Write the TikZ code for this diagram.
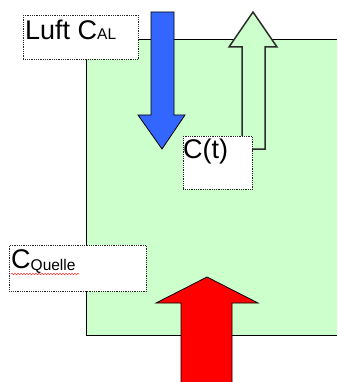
\documentclass[tikz,border=0pt]{standalone}
\usepackage{fontspec}
\setmainfont{Liberation Sans}
\usepackage{tikz}
\usetikzlibrary{calc, decorations.pathmorphing}
\definecolor{boxgreen}{RGB}{204,255,204}
\definecolor{inblue}{RGB}{51,102,255}
\definecolor{srcred}{RGB}{255,0,0}
\definecolor{outgray}{RGB}{45,45,45}
\tikzset{
  %% ---- boxes ----
  labelbox/.style = {rectangle, draw=black!85, line width=0.9pt,
                     dash pattern=on 0.9pt off 0.9pt,
                     fill=white, inner sep=0pt, anchor=north west,
                     minimum width=#1},
  labelbox/.default = 2cm,
  bigtext/.style  = {inner sep=0pt, anchor=base west,
                     font=\fontsize{27}{31}\selectfont},
  %% ---- arrows ----
  fatarrow/.style = {draw=black, line width=0.8pt, line join=miter},
  spellline/.style = {draw=red!80, line width=0.5pt,
                     decorate, decoration={snake, amplitude=0.8pt, segment length=3pt}},
}
\newcommand{\subtxt}[1]{{\fontsize{15.5}{17}\selectfont #1}}

\begin{document}
\begin{tikzpicture}[x=1pt, y=-1pt]
  \useasboundingbox (0,0) rectangle (337,382);

  %% chamber
  \fill[boxgreen] (86,39) rectangle (337,335);
  \draw[line width=0.8pt] (337,39) -- (86,39) -- (86,335) -- (337,335);

  %% outflow (hollow arrow)
  \draw[fatarrow, draw=outgray, line width=1.5pt, fill=boxgreen]
    (242,149) -- (242,47) -- (229,47) -- (253,12) -- (277,47)
    -- (265,47) -- (265,149) -- cycle;

  %% inflow from air
  \draw[fatarrow, fill=inblue]
    (151,12) -- (174,12) -- (174,115) -- (185,115) -- (162,149)
    -- (138,115) -- (151,115) -- cycle;

  %% source
  \draw[fatarrow, fill=srcred]
    (181,390) -- (181,303) -- (156,303) -- (207,277) -- (258,303)
    -- (232,303) -- (232,390);

  %% labels
  \node[labelbox=115pt, minimum height=44pt] (luftbox) at (23,15) {};
  \node[bigtext] (luft) at ($(luftbox.north west)+(2,25)$)
    {Luft C\subtxt{AL}};

  \node[labelbox=69pt, minimum height=53pt] (ctbox) at (183,136) {};
  \node[bigtext] (ct) at ($(ctbox.north west)+(0,22)$) {C(t)};

  \node[labelbox=137pt, minimum height=46pt] (quellebox) at (9,245) {};
  \node[bigtext] (quelle) at ($(quellebox.north west)+(2,23)$)
    {C\raisebox{-2pt}{\subtxt{Quelle}}};
  \coordinate (sp1) at ($(quellebox.north west)+(2,29)$);
  \coordinate (sp2) at ($(quellebox.north west)+(70,29)$);
  \draw[spellline] (sp1) -- (sp2);

\end{tikzpicture}
\end{document}
